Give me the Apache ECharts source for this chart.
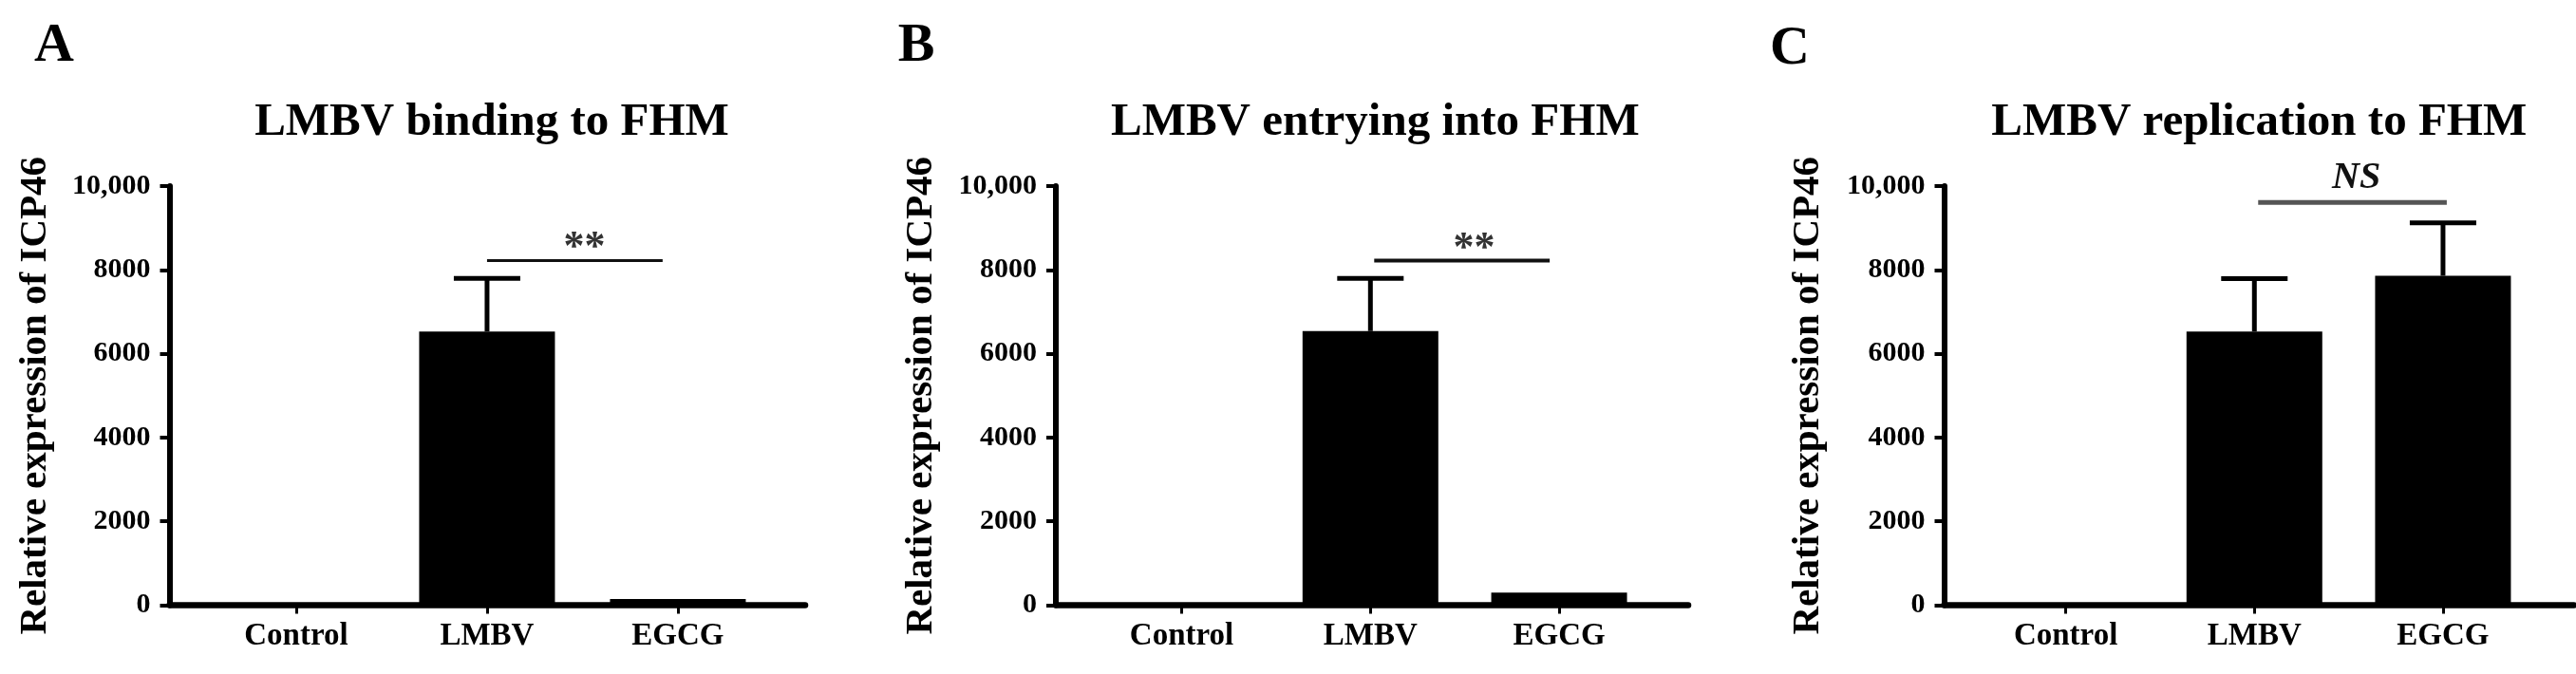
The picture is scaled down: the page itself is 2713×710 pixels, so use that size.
<!DOCTYPE html>
<html>
<head>
<meta charset="utf-8">
<script src="https://cdn.jsdelivr.net/npm/echarts@6/dist/echarts.min.js"></script>
<style>
html,body{margin:0;padding:0;background:#fff;}
#chart{width:2713px;height:710px;}
</style>
</head>
<body>
<div id="chart"></div>
<script>
// ---------- data ----------
const categories = ['Control', 'LMBV', 'EGCG'];
const panelLetters = ['A', 'B', 'C'];
const panelTitles = ['LMBV binding to FHM', 'LMBV entrying into FHM', 'LMBV replication to FHM'];
const yAxisName = 'Relative expression of ICP46';
const yTickValues = [0, 2000, 4000, 6000, 8000, 10000];
const yTickLabels = ['0', '2000', '4000', '6000', '8000', '10,000'];

const bindingMeans = [1, 6530, 150];
const bindingErrors = [0, 1270, 0];
const entryMeans = [1, 6540, 300];
const entryErrors = [0, 1260, 0];
const replicationMeans = [1, 6530, 7860];
const replicationErrors = [0, 1260, 1260];

// significance brackets: start / end (category units), height (value), label, label x
const sigStart = [1.0, 1.02, 1.02];
const sigEnd = [1.92, 1.95, 2.02];
const sigHeight = [8220, 8220, 9610];
const sigLabels = ['**', '**', 'NS'];
const sigLabelX = [1.51, 1.55, 1.54];

const panelMeans = [bindingMeans, entryMeans, replicationMeans];
const panelErrors = [bindingErrors, entryErrors, replicationErrors];

// ---------- layout ----------
const FONT = "'Liberation Serif', 'Times New Roman', serif";
const layout = [
  { left: 178.5, right: 848, min: -0.664, max: 2.667, letterX: 52, letterY: 44, nameGap: 121, sigW: 3, sigColor: '#111', sigTextColor: '#333', sigDy: -21, italic: false },
  { left: 1112, right: 1778, min: -0.667, max: 2.684, letterX: 960, letterY: 44, nameGap: 121, sigW: 4, sigColor: '#111', sigTextColor: '#333', sigDy: -20, italic: false },
  { left: 2047.5, right: 2711, min: -0.645, max: 2.695, letterX: 1880, letterY: 47, nameGap: 123, sigW: 5, sigColor: '#555', sigTextColor: '#111', sigDy: -26, italic: true }
];
const gridTop = 196, gridBottomY = 637.5;

const grids = [], xAxes = [], yAxes = [], series = [], titles = [];

layout.forEach((L, i) => {
  const width = L.right - L.left;
  grids.push({ left: L.left, top: gridTop, width: width, height: gridBottomY - gridTop, containLabel: false });
  xAxes.push({
    type: 'value', gridIndex: i, min: L.min, max: L.max,
    axisLine: { show: true, onZero: false, lineStyle: { color: '#000', width: 6.5 } },
    axisTick: { show: true, customValues: [0, 1, 2], length: 9, lineStyle: { color: '#000', width: 3 } },
    axisLabel: {
      show: true, customValues: [0, 1, 2],
      formatter: v => categories[Math.round(v)],
      fontFamily: FONT, fontWeight: 'bold', fontSize: 33, color: '#000', margin: 16
    },
    splitLine: { show: false }
  });
  yAxes.push({
    type: 'value', gridIndex: i, min: 0, max: 10000, interval: 2000,
    axisLine: { show: true, onZero: false, lineStyle: { color: '#000', width: 6 } },
    axisTick: { show: true, length: 10, lineStyle: { color: '#000', width: 4 } },
    axisLabel: {
      formatter: v => yTickLabels[yTickValues.indexOf(v)],
      fontFamily: FONT, fontWeight: 'bold', fontSize: 30, color: '#000', margin: 20
    },
    splitLine: { show: false },
    name: yAxisName, nameLocation: 'middle', nameGap: L.nameGap,
    nameTextStyle: { fontFamily: FONT, fontWeight: 'bold', fontSize: 41, color: '#000' }
  });

  // bars
  series.push({
    type: 'bar', xAxisIndex: i, yAxisIndex: i, barWidth: 143,
    itemStyle: { color: '#000' },
    data: panelMeans[i].map((v, k) => [k, v]),
    silent: true, animation: false
  });

  // error bars (upper)
  const errData = [];
  panelMeans[i].forEach((v, k) => { if (panelErrors[i][k] > 0) errData.push([k, v, v + panelErrors[i][k]]); });
  series.push({
    type: 'custom', xAxisIndex: i, yAxisIndex: i, z: 5, animation: false, silent: true,
    encode: { x: 0, y: [1, 2] },
    data: errData,
    renderItem: (params, api) => {
      const x = api.value(0), lo = api.value(1), hi = api.value(2);
      const pLo = api.coord([x, lo]);
      const pHi = api.coord([x, hi]);
      const cap = 35;
      return {
        type: 'group',
        children: [
          { type: 'line', shape: { x1: pLo[0], y1: pLo[1], x2: pHi[0], y2: pHi[1] }, style: { stroke: '#000', lineWidth: 5 } },
          { type: 'line', shape: { x1: pHi[0] - cap, y1: pHi[1], x2: pHi[0] + cap, y2: pHi[1] }, style: { stroke: '#000', lineWidth: 5 } }
        ]
      };
    }
  });

  // significance bracket
  series.push({
    type: 'custom', xAxisIndex: i, yAxisIndex: i, z: 6, clip: false, animation: false, silent: true,
    encode: { x: [0, 1, 3], y: 2 },
    data: [[sigStart[i], sigEnd[i], sigHeight[i], sigLabelX[i]]],
    renderItem: (params, api) => {
      const p1 = api.coord([api.value(0), api.value(2)]);
      const p2 = api.coord([api.value(1), api.value(2)]);
      const pl = api.coord([api.value(3), api.value(2)]);
      return {
        type: 'group',
        children: [
          { type: 'line', shape: { x1: p1[0], y1: p1[1], x2: p2[0], y2: p2[1] }, style: { stroke: L.sigColor, lineWidth: L.sigW } },
          { type: 'text', style: {
              text: sigLabels[i], x: pl[0], y: pl[1] + L.sigDy + (L.italic ? 0 : 8),
              align: 'center', verticalAlign: 'middle',
              font: (L.italic ? 'italic bold 40px ' : 'bold 44px ') + FONT,
              fill: L.sigTextColor
          } }
        ]
      };
    }
  });

  // titles: centred over middle category
  const midX = L.left + (1 - L.min) / (L.max - L.min) * width;
  titles.push({
    text: panelTitles[i], left: midX, top: 100, textAlign: 'center',
    textStyle: { fontFamily: FONT, fontWeight: 'bold', fontSize: 49, color: '#000' }
  });
  titles.push({
    text: panelLetters[i], left: L.letterX, top: L.letterY - 29, textAlign: 'center',
    textStyle: { fontFamily: FONT, fontWeight: 'bold', fontSize: 58, color: '#000' }
  });
});

const chart = echarts.init(document.getElementById('chart'), null, { renderer: 'canvas' });
chart.setOption({
  backgroundColor: '#fff',
  animation: false,
  title: titles,
  grid: grids,
  xAxis: xAxes,
  yAxis: yAxes,
  series: series
});
</script>
</body>
</html>
